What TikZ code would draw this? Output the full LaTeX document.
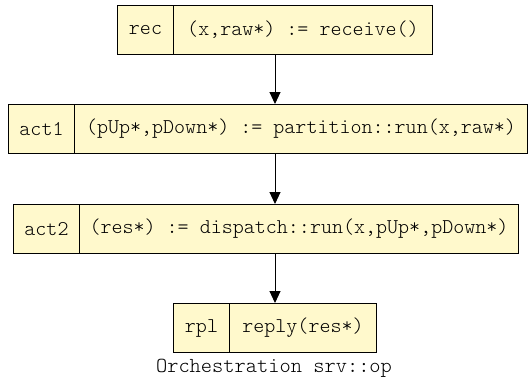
\documentclass[tikz,border=0pt]{standalone}
\usepackage{fontspec}
\newfontfamily\cellfont{Latin Modern Mono Light}
\usetikzlibrary{arrows.meta}
\definecolor{cellfill}{RGB}{255,249,204}
\tikzset{
  cell/.style={draw=black, fill=cellfill, line width=1pt, inner sep=0pt, anchor=north west,
    minimum height=49pt, font=\cellfont\fontsize{21}{24}\selectfont},
  flow/.style={draw=black, line width=1pt, -{Triangle[length=12pt,width=11pt]}},
  caption/.style={font=\cellfont\fontsize{21.4}{24}\selectfont, inner sep=0pt}
}
\begin{document}
\begin{tikzpicture}[x=1pt,y=-1pt]
\useasboundingbox (0,0) rectangle (531,383);
\node[cell, minimum width=56pt] (recL) at (117,5) {rec};
\node[cell, minimum width=259pt] (recB) at (173,5) {(x,raw*) := receive()};
\node[cell, minimum width=66pt] (act1L) at (8,104) {act1};
\node[cell, minimum width=453pt] (act1B) at (74,104) {(pUp*,pDown*) := partition::run(x,raw*)};
\node[cell, minimum width=66pt] (act2L) at (13,204) {act2};
\node[cell, minimum width=439pt] (act2B) at (79,204) {(res*) := dispatch::run(x,pUp*,pDown*)};
\node[cell, minimum width=56pt] (rplL) at (173,303) {rpl};
\node[cell, minimum width=147pt] (rplB) at (229,303) {reply(res*)};
\coordinate (ax) at (275,0);
\draw[flow] (recB.south -| ax) -- (act1B.north -| ax);
\draw[flow] (act1B.south -| ax) -- (act2B.north -| ax);
\draw[flow] (act2B.south -| ax) -- (rplB.north -| ax);
\node[caption] (cap) at (274,368) {Orchestration srv::op};
\end{tikzpicture}
\end{document}
